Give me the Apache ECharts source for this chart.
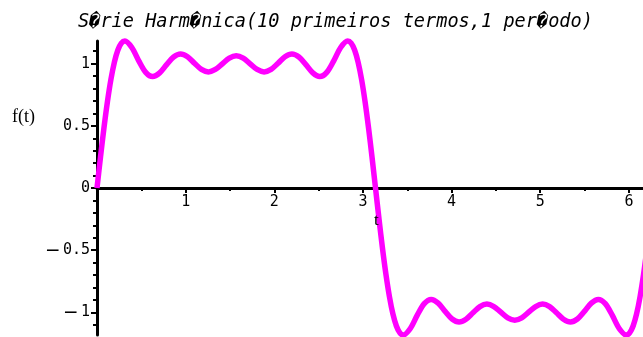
<!DOCTYPE html>
<html>
<head>
<meta charset="utf-8">
<script src="https://cdn.jsdelivr.net/npm/echarts@6/dist/echarts.min.js"></script>
<style>
html,body{margin:0;padding:0;background:#fff;}
#c{width:643px;height:337px;}
</style>
</head>
<body>
<div id="c"></div>
<script>
const titleText = 'S\uFFFDrie Harm\uFFFDnica(10 primeiros termos,1 per\uFFFDodo)';
const yName = 'f(t)';
const xName = 't';

const tValues = [
  0, 0.0393, 0.0785, 0.1178, 0.1571, 0.1963, 0.2356, 0.2749, 0.3142,
  0.3927, 0.4712, 0.5498, 0.6283, 0.7069, 0.7854, 0.8639, 0.9425, 1.0210, 1.0996,
  1.1781, 1.2566, 1.3352, 1.4137, 1.4923, 1.5708, 1.6493, 1.7279, 1.8064, 1.8850,
  1.9635, 2.0420, 2.1206, 2.1991, 2.2777, 2.3562, 2.4347, 2.5133, 2.5918, 2.6704,
  2.7489,
  2.8274, 2.8667, 2.9060, 2.9452, 2.9845, 3.0238, 3.0631, 3.1023, 3.1416,
  3.1809, 3.2201, 3.2594, 3.2987, 3.3379, 3.3772, 3.4165, 3.4558,
  3.5343, 3.6128, 3.6914, 3.7699, 3.8485, 3.9270, 4.0055, 4.0841, 4.1626, 4.2412,
  4.3197, 4.3982, 4.4768, 4.5553, 4.6339, 4.7124, 4.7909, 4.8695, 4.9480, 5.0265,
  5.1051, 5.1836, 5.2622, 5.3407, 5.4193, 5.4978, 5.5763, 5.6549, 5.7334, 5.8119,
  5.8905,
  5.9690, 6.0083, 6.0476, 6.0868, 6.1261, 6.1654, 6.2046, 6.2439, 6.2832
];

const fValues = [
  0, 0.2479, 0.4834, 0.6950, 0.8737, 1.0131, 1.1101, 1.1653, 1.1823,
  1.1301, 1.0228, 0.9301, 0.8959, 0.9256, 0.9918, 1.0532, 1.0773, 1.0550, 1.0035,
  0.9538, 0.9338, 0.9531, 0.9990, 1.0444, 1.0631, 1.0444, 0.9990, 0.9531, 0.9338,
  0.9538, 1.0035, 1.0550, 1.0773, 1.0532, 0.9918, 0.9256, 0.8959, 0.9301, 1.0228,
  1.1301,
  1.1823, 1.1653, 1.1101, 1.0131, 0.8737, 0.6950, 0.4834, 0.2479, 0,
  -0.2479, -0.4834, -0.6950, -0.8737, -1.0131, -1.1101, -1.1653, -1.1823,
  -1.1301, -1.0228, -0.9301, -0.8959, -0.9256, -0.9918, -1.0532, -1.0773, -1.0550, -1.0035,
  -0.9538, -0.9338, -0.9531, -0.9990, -1.0444, -1.0631, -1.0444, -0.9990, -0.9531, -0.9338,
  -0.9538, -1.0035, -1.0550, -1.0773, -1.0532, -0.9918, -0.9256, -0.8959, -0.9301, -1.0228,
  -1.1301,
  -1.1823, -1.1653, -1.1101, -1.0131, -0.8737, -0.6950, -0.4834, -0.2479, 0
];

const yMajorTicks = [-1, -0.5, 0, 0.5, 1];
const yMinorTicks = [-1.1, -0.9, -0.8, -0.7, -0.6, -0.4, -0.3, -0.2, -0.1,
                     0.1, 0.2, 0.3, 0.4, 0.6, 0.7, 0.8, 0.9, 1.1];
const xMin = 0, xMax = 6.2832, yMin = -1.1823, yMax = 1.1823;

const chart = echarts.init(document.getElementById('c'), null, {renderer: 'canvas'});
const mono = '"DejaVu Sans Mono", monospace';
const serif = '"Liberation Serif", "DejaVu Serif", serif';

const gridTop = 41, gridHeight = 294;

const option = {
  animation: false,
  backgroundColor: '#ffffff',
  title: {
    text: titleText,
    left: 73,
    top: 8,
    textStyle: {fontFamily: mono, fontSize: 18.6, fontStyle: 'italic', fontWeight: 'normal', color: '#000'}
  },
  grid: {left: 97, top: gridTop, width: 557, height: gridHeight, outerBoundsMode: 'none', containLabel: false},
  xAxis: {
    type: 'value',
    position: 'bottom',
    offset: -gridHeight / 2,
    min: xMin, max: xMax, interval: 1,
    axisLine: {onZero: false, lineStyle: {color: '#000', width: 3}},
    axisTick: {show: true, length: 5, lineStyle: {color: '#000', width: 2}},
    minorTick: {show: true, splitNumber: 2, length: 3, lineStyle: {color: '#000', width: 2}},
    splitLine: {show: false},
    axisLabel: {
      showMinLabel: false, showMaxLabel: false,
      margin: 7,
      fontFamily: mono, fontSize: 15, color: '#000'
    }
  },
  yAxis: [
    {
      type: 'value', position: 'left',
      min: yMin, max: yMax,
      axisLine: {onZero: false, lineStyle: {color: '#000', width: 3}},
      axisTick: {show: true, length: 6, customValues: yMajorTicks, lineStyle: {color: '#000', width: 2}},
      splitLine: {show: false},
      axisLabel: {
        customValues: yMajorTicks,
        margin: 7,
        fontFamily: mono, fontSize: 15, color: '#000',
        formatter: function (v) {
          if (v < 0) return '{m|\u2014}{s| }' + String(Math.abs(v));
          return String(v);
        },
        rich: {
          m: {fontFamily: '"DejaVu Sans", sans-serif', fontSize: 13, fontWeight: 'bold', color: '#000'},
          s: {fontFamily: mono, fontSize: 6, color: '#000'}
        }
      }
    },
    {
      type: 'value', position: 'left',
      min: yMin, max: yMax,
      axisLine: {show: false},
      axisTick: {show: true, length: 4, customValues: yMinorTicks, lineStyle: {color: '#000', width: 2}},
      axisLabel: {show: false},
      splitLine: {show: false}
    }
  ],
  graphic: [
    {type: 'text', left: 12, top: 108, z: 10, style: {text: yName, font: '18px ' + serif, fill: '#000'}},
    {type: 'text', left: 374, top: 212, z: 10, style: {text: xName, font: '17px ' + serif, fill: '#000'}}
  ],
  series: [{
    type: 'line',
    data: tValues.map((t, i) => [t, fValues[i]]),
    showSymbol: false,
    smooth: 0.3,
    clip: false,
    lineStyle: {color: '#ff00ff', width: 5.5},
    z: 1
  }]
};
chart.setOption(option);
</script>
</body>
</html>
